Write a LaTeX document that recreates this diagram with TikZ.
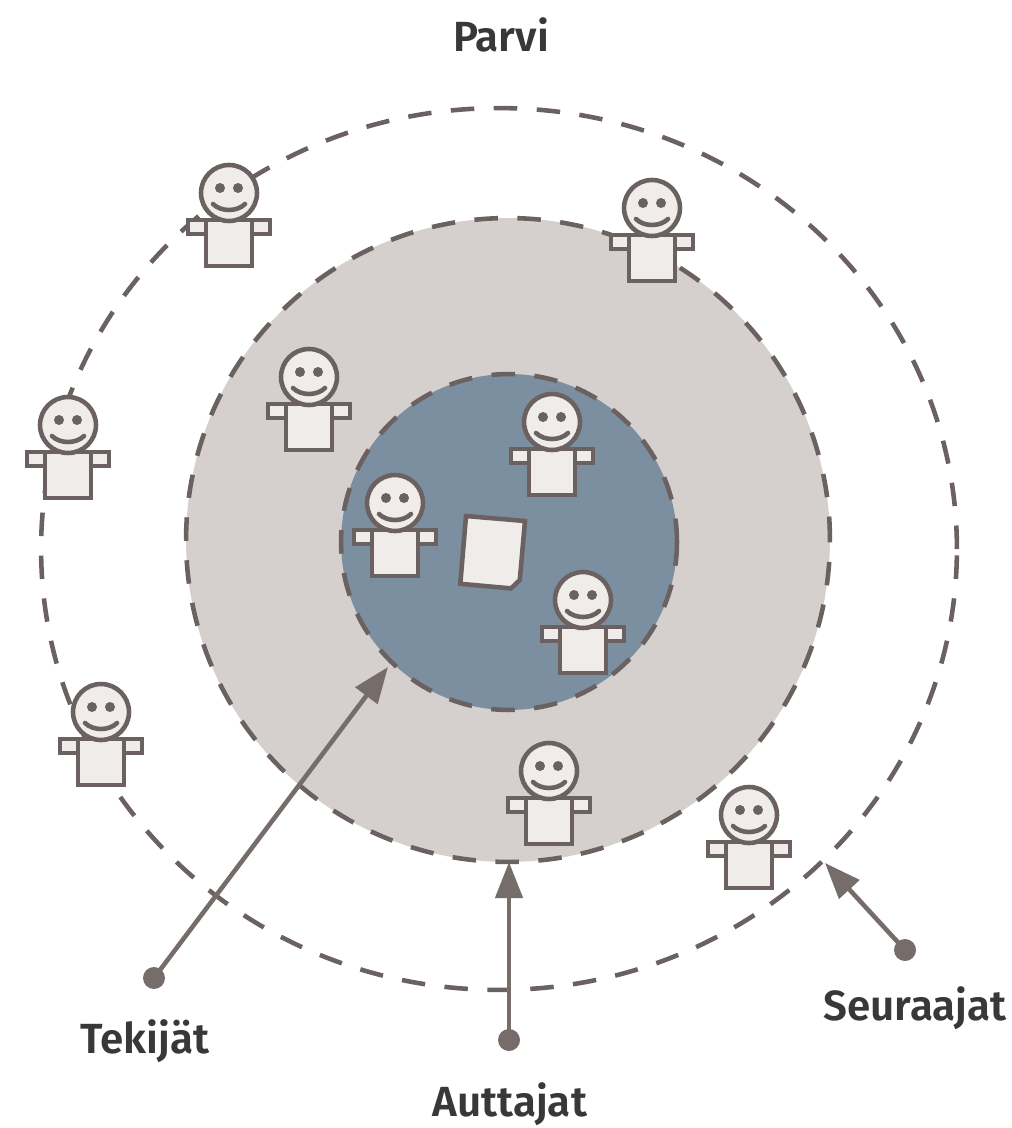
\documentclass[tikz,border=0pt]{standalone}
\usepackage{fontspec}
\setmainfont{Fira Sans}[BoldFont={Fira Sans SemiBold}]
\usetikzlibrary{arrows.meta}

\definecolor{linegrey}{RGB}{106,97,96}
\definecolor{arrowgrey}{RGB}{118,108,106}
\definecolor{ringgrey}{RGB}{213,207,205}
\definecolor{coreblue}{RGB}{124,143,160}
\definecolor{bodyfill}{RGB}{239,236,234}
\definecolor{textgrey}{RGB}{58,55,55}

\tikzset{
  person/.pic={
    \filldraw[figline] (-41,27) rectangle (-23,41);
    \filldraw[figline] (23,27) rectangle (41,41);
    \filldraw[figline] (-23,27) rectangle (23,73);
    \filldraw[figline] (0,0) circle[radius=0.56cm];
    \fill[linegrey] (-9,-5) circle[radius=0.1cm];
    \fill[linegrey] (9,-5) circle[radius=0.1cm];
    \draw[linegrey,line width=2.6pt,line cap=round] (-16,11) .. controls (-8,19) and (8,19) .. (16,11);
  }
}

\begin{document}
\begin{tikzpicture} [x=0.02cm,y=-0.02cm,
  ring/.style={draw=linegrey,line width=2.6pt,dash pattern=on 0.47cm off 0.39cm},
  figline/.style={draw=linegrey,fill=bodyfill,line width=2.6pt},
  pointer/.style={arrowgrey,line width=2.6pt,-{Triangle[length=0.72cm,width=0.54cm]}},
  tagtext/.style={text=textgrey,font=\bfseries\fontsize{24}{28}\selectfont,anchor=base}]

\useasboundingbox (0,0) rectangle (1011,1128);

\coordinate (O) at (499,549);
\coordinate (M) at (508,540);
\coordinate (C) at (509,542);

% rings
\draw[ring] (O) ellipse [x radius=9.16cm, y radius=8.82cm];
\draw[ring,fill=ringgrey] (M) circle [radius=6.44cm];
\draw[ring,fill=coreblue] (C) circle [radius=3.36cm];

% people
\pic at (229,193) {person};
\pic at (652,208) {person};
\pic at (309,377) {person};
\pic at (68,425) {person};
\pic at (552,422) {person};
\pic at (395,503) {person};
\pic at (583,600) {person};
\pic at (101,712) {person};
\pic at (549,771) {person};
\pic at (749,815) {person};

% paper
\filldraw[figline] (466,516) -- (525,521) -- (519.8,580) -- (511,588.4) -- (460.3,583.8) -- cycle;

% pointers
\coordinate (tekDot) at (154,978);
\coordinate (tekTip) at (388,667);
\coordinate (autDot) at (509,1040);
\coordinate (autTip) at (509,862);
\coordinate (seuDot) at (905,950);
\coordinate (seuTip) at (825,863);

\draw[pointer] (tekDot)--(tekTip);
\draw[pointer] (autDot)--(autTip);
\draw[pointer] (seuDot)--(seuTip);
\fill[arrowgrey] (tekDot) circle[radius=0.22cm];
\fill[arrowgrey] (autDot) circle[radius=0.22cm];
\fill[arrowgrey] (seuDot) circle[radius=0.22cm];

\node[tagtext] (parvi) at (501,52) {Parvi};
\node[tagtext] (tekijat) at (145,1053) {Tekijät};
\node[tagtext] (auttajat) at (510,1116) {Auttajat};
\node[tagtext] (seuraajat) at (915,1020) {Seuraajat};

\end{tikzpicture}
\end{document}
